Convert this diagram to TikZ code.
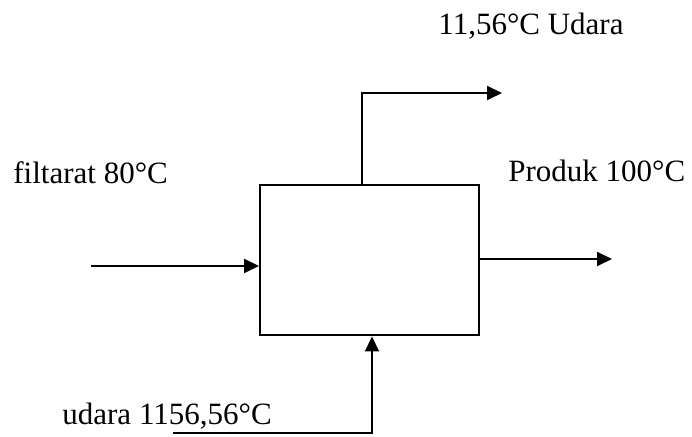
\documentclass[tikz,border=0pt]{standalone}
\usepackage{fontspec}
\setmainfont{Liberation Serif}
\usepackage{tikz}
\usetikzlibrary{arrows.meta,positioning}
\tikzset{box/.style={draw,line width=1pt,minimum width=109.5pt,minimum height=75pt,inner sep=0pt},arr/.style={-{Triangle[length=7.5pt,width=7pt]},line width=1pt},lbl/.style={anchor=base west,inner sep=0pt,font=\fontsize{15.5}{18}\selectfont}}

\begin{document}
\begin{tikzpicture}[x=0.5pt,y=-0.5pt]
\useasboundingbox (0,0) rectangle (692,437);
\node[box] (dryer) at (369.5,260.5) {};
\coordinate (fin) at (91,266);\coordinate (pout) at (612,259);
\coordinate (ubend) at (362,93);\coordinate (uout) at (502,93);
\coordinate (uin) at (173,433);\coordinate (ubot) at (372,433);
\draw[arr] (fin)--(fin-|dryer.west);
\draw[arr] (pout-|dryer.east)--(pout);
\draw[arr] (ubend|-dryer.north)--(ubend)--(uout);
\draw[arr] (uin)--(ubot)--(ubot|-dryer.south);
\node[lbl] (filtrat) at (13,184) {filtarat 80°C};
\node[lbl] (produk) at (508,182) {Produk 100°C};
\node[lbl] (udarakeluar) at (438,35) {11,56°C Udara};
\node[lbl] (udaramasuk) at (62,425) {udara 1156,56°C};
\end{tikzpicture}
\end{document}
